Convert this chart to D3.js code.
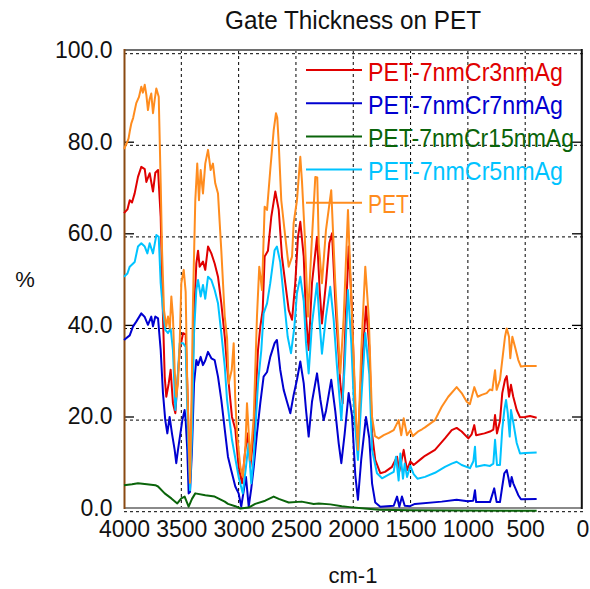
<!DOCTYPE html>
<html>
<head>
<meta charset="utf-8">
<script src="https://cdn.jsdelivr.net/npm/d3@7/dist/d3.min.js"></script>
<style>
  html, body { margin: 0; padding: 0; background: #ffffff; }
  svg { display: block; }
  text { font-family: "Liberation Sans", Arial, sans-serif; }
</style>
</head>
<body>
<svg id="chart" width="590" height="589"></svg>
<script>
// ---------------- data ----------------
const chartTitle = "Gate Thickness on PET";
const xTitle = "cm-1";
const yTitle = "%";
const xTickValues = [4000, 3500, 3000, 2500, 2000, 1500, 1000, 500, 0];
const yTickValues = [0, 20, 40, 60, 80, 100];

const seriesNames = ["PET-7nmCr3nmAg", "PET-7nmCr7nmAg", "PET-7nmCr15nmAg", "PET-7nmCr5nmAg", "PET"];
const seriesColors = ["#e00000", "#0000d0", "#0a640a", "#00c3ff", "#ff8c1e"];

// [wavenumber (cm-1), transmittance (%)]
const cr3Data = [[4000,65.2],[3970,66],[3950,68],[3930,67.5],[3907,69.5],[3878,73.1],[3849,75.3],[3819,74.8],[3805,72],[3776,73.9],[3747,69.9],[3727,74],[3703,74.6],[3680,64.4],[3660,42.6],[3645,29.5],[3631,25.1],[3610,28],[3593,31],[3573,23.7],[3552,21.5],[3535,28],[3514,35.3],[3485,39],[3462,38.7],[3448,28],[3433,13.5],[3424,6.9],[3407,24.4],[3389,42.6],[3369,54.2],[3354,57],[3340,53.5],[3311,54.6],[3291,52.8],[3267,57.9],[3238,56.4],[3209,54.2],[3180,51.3],[3151,45.5],[3121,38.2],[3101,31.7],[3058,20.7],[3029,18],[3000,9.8],[2971,6.2],[2942,13.5],[2918,17.1],[2898,9.8],[2868,17.1],[2831,35.3],[2811,40.4],[2790,44],[2773,55.7],[2744,57],[2715,64.4],[2680,69.9],[2650,65.9],[2622,55.7],[2593,49.9],[2563,44],[2534,41.9],[2506,49.9],[2482,60],[2462,63.3],[2432,55.7],[2412,42.6],[2389,35.3],[2360,49.9],[2316,60],[2293,48.4],[2273,41.1],[2238,49.9],[2209,58.6],[2185,60.8],[2157,46.2],[2113,28],[2092,23.7],[2069,40],[2040,57.9],[2011,44],[1982,20.7],[1959,14.9],[1930,30],[1889,44.8],[1860,36],[1836,17.1],[1808,11.3],[1764,8.4],[1723,8.7],[1662,9.8],[1618,12],[1598,8.8],[1560,13.5],[1531,9.1],[1502,11],[1473,10.2],[1400,11.7],[1374,12.2],[1287,13.5],[1200,16],[1141,17.8],[1098,18.3],[1054,17.5],[996,16],[967,16.9],[944,18.9],[928,16.7],[855,17.1],[807,17.5],[778,17.9],[763,21.1],[746,17.1],[720,19.8],[700,25.9],[676,28.8],[661,29.6],[641,25.1],[624,27.7],[604,25.1],[574,22.2],[545,20.6],[502,20.7],[458,20.9],[400,20.5]];

const cr7Data = [[4000,37.5],[3950,38.5],[3922,40.4],[3893,41.5],[3849,43.3],[3819,42.5],[3791,40.8],[3762,42.6],[3747,40.5],[3727,42.6],[3703,42.2],[3680,35.3],[3660,25.9],[3640,20],[3622,17.1],[3602,20.7],[3581,17],[3558,13.5],[3544,10.6],[3529,13.5],[3491,20],[3471,22.2],[3462,20],[3448,13.5],[3436,4],[3424,4.3],[3407,13.5],[3389,28],[3369,33.1],[3354,32],[3331,33.8],[3311,32],[3291,33],[3267,34.9],[3238,33.5],[3209,33.1],[3180,29.5],[3151,24.4],[3121,18],[3093,12],[3064,9],[3029,5.5],[3000,4],[2977,1.1],[2956,4.5],[2936,7.6],[2912,1.1],[2890,5],[2868,9.8],[2840,17.1],[2811,23.7],[2782,29.5],[2752,30.5],[2724,33.8],[2686,36.8],[2666,37.5],[2637,31],[2607,26.6],[2578,24],[2549,21.5],[2520,25.5],[2491,28.8],[2462,32.8],[2432,28],[2412,22.2],[2389,16.4],[2360,24],[2316,30.2],[2287,24.5],[2258,20],[2238,22],[2192,28.8],[2157,22],[2127,14.9],[2104,10.6],[2075,17],[2040,25.9],[2011,21],[1982,8],[1959,2.6],[1930,11.5],[1889,20.7],[1860,16],[1836,6.2],[1808,2],[1764,1.1],[1647,1.3],[1618,3.3],[1598,1.1],[1575,3.3],[1551,1.3],[1505,1.2],[1462,1.7],[1228,2.2],[1098,2.6],[1002,2.3],[953,2.4],[938,4.7],[928,2.1],[807,2.1],[770,5.1],[749,2.1],[720,2.1],[700,5.5],[682,8.4],[661,9.1],[647,7.5],[632,5.5],[618,7.6],[604,6.2],[560,3.6],[537,2.7],[400,2.8]];

const cr15Data = [[4000,5.8],[3930,6],[3878,6.2],[3800,6],[3727,5.8],[3703,5.5],[3645,4],[3587,2.9],[3535,1.8],[3500,2.9],[3471,3.3],[3436,1.1],[3407,2.8],[3378,4],[3291,3.6],[3209,3.3],[3121,2.2],[3093,1.7],[3029,1.2],[2985,0.7],[2913,0.9],[2855,1.7],[2768,2.4],[2694,3.3],[2650,2.8],[2563,2],[2450,2.2],[2345,1.7],[2301,1.8],[2200,1.6],[2100,1.2],[2030,1.0],[1900,0.7],[1778,0.4],[1500,0.3],[400,0.2]];

const cr5Data = [[4000,51.3],[3970,52],[3950,53.5],[3907,54.5],[3878,57.9],[3849,58.6],[3819,57.9],[3796,56.4],[3776,58.6],[3747,56.4],[3718,60.4],[3697,60],[3680,49.9],[3660,44],[3640,39.7],[3616,39],[3593,40],[3573,35.3],[3552,22.2],[3535,28],[3514,36.8],[3485,36.8],[3462,36],[3442,17.1],[3424,4.7],[3407,17.1],[3389,39],[3369,48.4],[3354,50.6],[3331,47],[3311,49.5],[3291,46.5],[3267,51.3],[3238,50.6],[3209,48.4],[3180,45.5],[3151,39],[3121,31.7],[3101,24.4],[3058,15.7],[3000,7.6],[2964,4],[2936,9.8],[2913,14.9],[2890,6.2],[2868,12],[2831,28],[2802,35.3],[2782,43.3],[2752,45.5],[2724,49.9],[2686,57.1],[2666,57.9],[2637,54.5],[2601,45.5],[2572,38.2],[2543,34.6],[2515,40],[2491,47.7],[2462,51.3],[2432,46],[2412,36.8],[2389,30.2],[2360,41],[2316,49.9],[2293,41],[2273,34.5],[2238,42.6],[2201,49.1],[2171,42],[2142,31.7],[2104,20],[2075,31.7],[2046,48.4],[2017,36.8],[1988,20],[1959,11.3],[1930,24.4],[1895,39],[1860,30],[1836,13.5],[1793,8.4],[1749,7.3],[1691,8.1],[1647,8.7],[1627,12],[1604,6.8],[1589,12.7],[1566,7.2],[1551,10.5],[1531,7.6],[1502,10],[1473,8.2],[1440,7.2],[1374,7.6],[1287,8.5],[1200,9.8],[1141,10.5],[1098,10.9],[1054,10.2],[982,9.5],[952,11],[938,14.2],[928,9.8],[855,10.2],[807,10],[778,10.5],[763,15.7],[746,10.2],[720,10.2],[700,18],[682,22.2],[667,24.4],[652,21.5],[635,16.4],[624,22.2],[604,19.5],[574,15],[545,12.7],[502,12.8],[400,12.9]];

const petData = [[4000,79.2],[3975,80.5],[3960,81.5],[3950,83],[3936,84.8],[3920,86],[3893,89.2],[3870,90.5],[3849,92.8],[3835,91.5],[3819,93.2],[3805,91],[3791,87.7],[3777,90],[3762,91.3],[3747,87],[3732,90],[3718,92.4],[3697,90.6],[3680,71.8],[3668,57],[3651,44],[3631,40.4],[3616,42.6],[3600,40],[3587,47],[3573,42.6],[3558,31],[3544,25.1],[3529,28],[3514,36.8],[3500,49.9],[3479,52.8],[3462,48],[3448,28],[3433,13.5],[3424,6.3],[3413,20.7],[3398,46.2],[3378,68],[3361,76],[3346,68],[3331,74.6],[3311,69.5],[3291,76],[3267,79],[3244,74.6],[3224,76],[3204,71.7],[3180,69.5],[3151,57],[3121,42.6],[3101,38],[3087,28],[3060,31],[3043,36.8],[3030,25],[3014,17],[2985,9.8],[2964,7.6],[2942,13.5],[2927,23.7],[2898,11.3],[2868,20.7],[2840,42.6],[2820,53.5],[2796,48.4],[2773,66.6],[2752,65.9],[2724,74.6],[2694,83.3],[2674,87],[2663,86],[2650,80.4],[2628,68],[2593,60],[2563,53.5],[2534,55.7],[2520,63],[2491,68],[2462,77.5],[2447,72],[2424,60.8],[2395,42.6],[2366,57],[2331,73.1],[2314,73],[2301,58.6],[2273,49.9],[2238,61.5],[2192,70.2],[2157,49.9],[2113,30.2],[2083,42.6],[2046,65.9],[2011,42.6],[1976,20.7],[1959,13.5],[1930,35.3],[1895,53.5],[1865,42.6],[1836,20.7],[1810,16.5],[1778,16],[1734,16.7],[1691,17.2],[1647,17.8],[1604,20],[1581,16.7],[1560,20.4],[1531,16.7],[1502,17.8],[1481,16.5],[1429,17.6],[1400,18],[1374,18.4],[1287,20],[1228,22.9],[1171,25.1],[1098,27.2],[1054,25.9],[1010,24],[982,23.5],[944,27.2],[914,25.1],[880,25.5],[836,25.9],[807,26.7],[787,26.5],[763,30.9],[749,26.6],[720,28.8],[700,33.1],[676,38.2],[661,40],[641,38.2],[630,33.5],[612,38.2],[589,36],[560,33.1],[537,31.7],[502,31.8],[400,31.8]];

const seriesData = [cr3Data, cr7Data, cr15Data, cr5Data, petData];

// ---------------- drawing ----------------
const svg = d3.select("#chart");
const x = d3.scaleLinear().domain([4000, 0]).range([124, 582.5]);
const y = d3.scaleLinear().domain([0, 100]).range([511.7, 53.7]);
const off = -3.6; // frame/ticks drawn slightly above the grid

// grid
const grid = svg.append("g").attr("stroke", "#000").attr("stroke-width", 1)
  .attr("stroke-dasharray", "3,3").attr("fill", "none");
grid.selectAll("line.h").data(yTickValues).join("line").attr("class", "h")
  .attr("x1", 124).attr("x2", 583).attr("y1", d => y(d)).attr("y2", d => y(d));
grid.selectAll("line.v").data(xTickValues.filter(d => d > 0 && d < 4000)).join("line").attr("class", "v")
  .attr("x1", d => x(d)).attr("x2", d => x(d)).attr("y1", 50).attr("y2", 512);

// frame
svg.append("line").attr("x1", 124).attr("x2", 582).attr("y1", y(100) + off).attr("y2", y(100) + off)
  .attr("stroke", "#6e6e6e").attr("stroke-width", 2);
svg.append("line").attr("x1", 124).attr("x2", 582).attr("y1", y(0) + off).attr("y2", y(0) + off)
  .attr("stroke", "#8a8a8a").attr("stroke-width", 2);
svg.append("line").attr("x1", 581.8).attr("x2", 581.8).attr("y1", y(100) + off - 1).attr("y2", y(0) + off + 1)
  .attr("stroke", "#111").attr("stroke-width", 2);

// left axis
const yAxisL = svg.append("g").attr("transform", `translate(124,${off})`)
  .call(d3.axisLeft(y).tickValues(yTickValues).tickSize(-10).tickPadding(11.5).tickFormat(d3.format(".1f")));
yAxisL.select(".domain").remove();
yAxisL.selectAll(".tick line").attr("stroke", "#000").attr("stroke-width", 1.3)
  .filter(d => d === 0 || d === 100).remove();
yAxisL.selectAll("text").attr("font-size", 23).attr("fill", "#111")
  .style("font-family", '"Liberation Sans", Arial, sans-serif');

// right axis
const yAxisR = svg.append("g").attr("transform", `translate(582,${off})`)
  .call(d3.axisRight(y).tickValues(yTickValues).tickSize(-10).tickFormat(""));
yAxisR.select(".domain").remove();
yAxisR.selectAll(".tick line").attr("stroke", "#000").attr("stroke-width", 1.3)
  .filter(d => d === 0 || d === 100).remove();

// bottom axis labels
const xAxis = svg.append("g").attr("transform", `translate(0,${y(0) + off})`)
  .call(d3.axisBottom(x).tickValues(xTickValues).tickSize(0).tickFormat(d3.format("d")));
xAxis.select(".domain").remove();
xAxis.selectAll("text").attr("font-size", 23).attr("fill", "#111").attr("dy", null).attr("y", 29)
  .style("font-family", '"Liberation Sans", Arial, sans-serif');

// left spine (brown)
svg.append("line").attr("x1", 124.5).attr("x2", 124.5).attr("y1", y(100) + off - 1).attr("y2", y(0) + off + 1)
  .attr("stroke", "#8a4a12").attr("stroke-width", 2);

// series
const line = d3.line().x(d => x(d[0])).y(d => y(d[1]));
svg.append("g").selectAll("path").data(seriesData).join("path")
  .attr("d", d => line(d))
  .attr("fill", "none")
  .attr("stroke", (d, i) => seriesColors[i])
  .attr("stroke-width", 2)
  .attr("stroke-linejoin", "round");

// legend
const legendWidths = [195, 195, 206, 195, 41];
const leg = svg.append("g");
seriesNames.forEach((name, i) => {
  const ly = 70 + i * 33.2;
  leg.append("line").attr("x1", 306).attr("x2", 362).attr("y1", ly).attr("y2", ly)
    .attr("stroke", seriesColors[i]).attr("stroke-width", 2);
  leg.append("text").attr("x", 368).attr("y", ly + 10.5).attr("font-size", 26)
    .attr("textLength", legendWidths[i]).attr("lengthAdjust", "spacingAndGlyphs")
    .attr("fill", seriesColors[i]).text(name);
});

// titles
svg.append("text").attr("x", 353).attr("y", 29).attr("text-anchor", "middle")
  .attr("font-size", 25).attr("textLength", 256).attr("lengthAdjust", "spacingAndGlyphs")
  .attr("fill", "#111").text(chartTitle);
svg.append("text").attr("x", 353).attr("y", 583).attr("text-anchor", "middle")
  .attr("font-size", 22).attr("fill", "#111").text(xTitle);
svg.append("text").attr("x", 25).attr("y", 287).attr("text-anchor", "middle")
  .attr("font-size", 22).attr("fill", "#111").text(yTitle);
</script>
</body>
</html>
